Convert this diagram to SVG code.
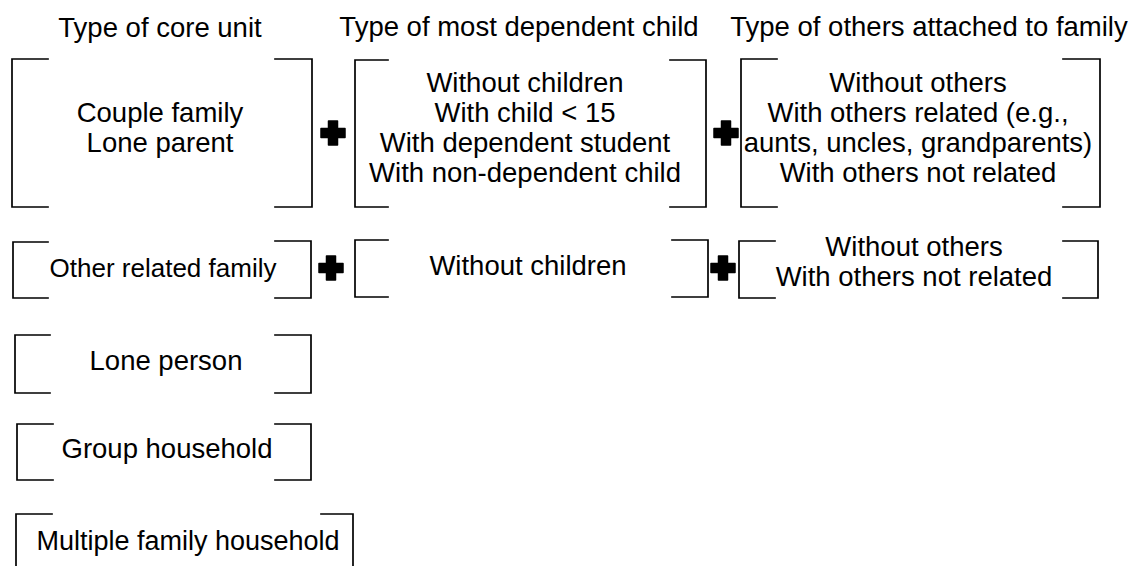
<svg xmlns="http://www.w3.org/2000/svg" width="1136" height="566" viewBox="0 0 1136 566">
<style>
.br{fill:none;stroke:#000;stroke-width:1.7;stroke-linecap:square}
.t{font-family:"Liberation Sans",Arial,sans-serif;font-size:27.5px;fill:#000;text-anchor:middle}
.plus{fill:#000;stroke:#000;stroke-width:1.5;stroke-linejoin:round}
</style>
<defs>
<path id="plusShape" d="M-4.5,-12 H4.5 V-4.5 H12 V4.5 H4.5 V12 H-4.5 V4.5 H-12 V-4.5 H-4.5 Z"/>
</defs>
<rect width="1136" height="566" fill="#fff"/>
<g id="titles">
<text class="t" x="160" y="37">Type of core unit</text>
<text class="t" x="519" y="36">Type of most dependent child</text>
<text class="t" x="929" y="36">Type of others attached to family</text>
</g>
<g id="node-couple">
<path class="br" d="M48,59 H12 V207 H48"/>
<path class="br" d="M275,59 H312 V207 H275"/>
<text class="t" x="160" y="122">Couple family</text>
<text class="t" x="160" y="152">Lone parent</text>
</g>
<g id="node-children">
<path class="br" d="M388,60 H355 V207 H388"/>
<path class="br" d="M670,60 H706 V207 H670"/>
<text class="t" x="525" y="92">Without children</text>
<text class="t" x="525" y="122">With child &lt; 15</text>
<text class="t" x="525" y="152">With dependent student</text>
<text class="t" x="525" y="182">With non-dependent child</text>
</g>
<g id="node-others">
<path class="br" d="M777,59 H741 V207 H777"/>
<path class="br" d="M1063,59 H1100 V207 H1063"/>
<text class="t" x="918" y="92">Without others</text>
<text class="t" x="918" y="122">With others related (e.g.,</text>
<text class="t" x="918" y="152">aunts, uncles, grandparents)</text>
<text class="t" x="918" y="182">With others not related</text>
</g>
<g id="node-other-related">
<path class="br" d="M48,242 H13 V298 H48"/>
<path class="br" d="M275,241 H311 V298 H275"/>
<text class="t" x="163" y="277" style="font-size:26px">Other related family</text>
</g>
<g id="node-without-children">
<path class="br" d="M388,240 H355 V297 H388"/>
<path class="br" d="M672,240 H708 V297 H672"/>
<text class="t" x="528" y="275">Without children</text>
</g>
<g id="node-others-2">
<path class="br" d="M775,241 H739 V298 H775"/>
<path class="br" d="M1063,241 H1098 V298 H1063"/>
<text class="t" x="914" y="256">Without others</text>
<text class="t" x="914" y="286">With others not related</text>
</g>
<g id="node-lone-person">
<path class="br" d="M50,335 H15 V393 H50"/>
<path class="br" d="M275,335 H311 V393 H275"/>
<text class="t" x="166" y="370">Lone person</text>
</g>
<g id="node-group-household">
<path class="br" d="M53,424 H17 V480 H53"/>
<path class="br" d="M275,424 H311 V480 H275"/>
<text class="t" x="167" y="458">Group household</text>
</g>
<g id="node-multiple-family">
<path class="br" d="M52,514 H16 V570"/>
<path class="br" d="M321,514 H353 V570"/>
<text class="t" x="188" y="550" style="font-size:27px">Multiple family household</text>
</g>
<g id="connectors">
<use href="#plusShape" class="plus" transform="translate(333,133)"/>
<use href="#plusShape" class="plus" transform="translate(726,133)"/>
<use href="#plusShape" class="plus" transform="translate(331,268)"/>
<use href="#plusShape" class="plus" transform="translate(723,268)"/>
</g>
</svg>
